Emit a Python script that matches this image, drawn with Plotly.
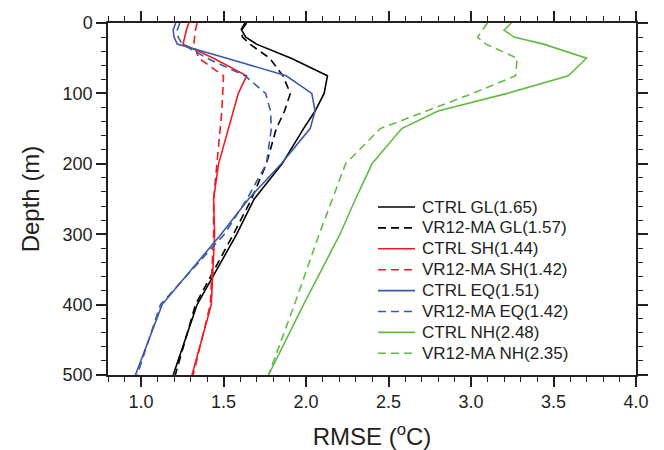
import plotly.graph_objects as go

depth = [0, 10, 20, 30, 50, 75, 100, 125, 150, 200, 250, 300, 400, 500]

ctrl_gl = [1.64, 1.61, 1.635, 1.70, 1.91, 2.13, 2.11, 2.055, 1.985, 1.855, 1.686, 1.58, 1.34, 1.195]
vr_gl   = [1.63, 1.605, 1.615, 1.66, 1.78, 1.86, 1.905, 1.87, 1.82, 1.76, 1.67, 1.56, 1.33, 1.208]
ctrl_sh = [1.29, 1.275, 1.265, 1.255, 1.44, 1.64, 1.59, 1.56, 1.53, 1.47, 1.44, 1.446, 1.426, 1.309]
vr_sh   = [1.34, 1.33, 1.325, 1.32, 1.35, 1.50, 1.495, 1.49, 1.48, 1.46, 1.44, 1.44, 1.42, 1.316]
ctrl_eq = [1.21, 1.195, 1.20, 1.22, 1.52, 1.88, 2.035, 2.055, 2.025, 1.85, 1.652, 1.485, 1.128, 0.966]
vr_eq   = [1.235, 1.22, 1.225, 1.25, 1.40, 1.63, 1.755, 1.785, 1.79, 1.76, 1.642, 1.505, 1.118, 0.977]
ctrl_nh = [3.245, 3.20, 3.26, 3.44, 3.70, 3.59, 3.22, 2.80, 2.58, 2.40, 2.30, 2.206, 1.985, 1.773]
vr_nh   = [3.10, 3.07, 3.04, 3.09, 3.28, 3.27, 3.01, 2.73, 2.45, 2.24, 2.16, 2.08, 1.93, 1.773]

names = ["CTRL GL(1.65)", "VR12-MA GL(1.57)", "CTRL SH(1.44)", "VR12-MA SH(1.42)",
         "CTRL EQ(1.51)", "VR12-MA EQ(1.42)", "CTRL NH(2.48)", "VR12-MA NH(2.35)"]
series = [ctrl_gl, vr_gl, ctrl_sh, vr_sh, ctrl_eq, vr_eq, ctrl_nh, vr_nh]
colors = ["#000000", "#000000", "#ee1c25", "#ee1c25", "#3b5ba9", "#3b5ba9", "#63bb46", "#63bb46"]
dashes = ["solid", "8px,5px"] * 4

# the page body has an 8px default margin, so the figure is 8px smaller
OFF = 8
W, H = 664 - OFF, 450 - OFF
ML, MR, MT, MB = 108 - OFF, 28, 23 - OFF, 75
PW, PH = W - ML - MR, H - MT - MB

fig = go.Figure()
for n, s, c, d in zip(names, series, colors, dashes):
    fig.add_trace(go.Scatter(x=s, y=depth, mode="lines", name=n, showlegend=False,
                             line=dict(color=c, width=1.6, dash=d)))

font_family = "Liberation Sans, Arial, sans-serif"
TXT = "#231f20"

# legend drawn in paper coordinates (layout only); positions in screen px
leg_x0, leg_x1, leg_tx = 378, 415, 420
leg_y0, leg_dy = 207, 20.9
for i, (n, c, d) in enumerate(zip(names, colors, dashes)):
    py = leg_y0 + i * leg_dy - OFF
    yp = (H - MB - py) / PH
    fig.add_shape(type="line", xref="paper", yref="paper",
                  x0=(leg_x0 - OFF - ML) / PW, x1=(leg_x1 - OFF - ML) / PW, y0=yp, y1=yp,
                  line=dict(color=c, width=1.6, dash=d))
    fig.add_annotation(xref="paper", yref="paper", x=(leg_tx - OFF - ML) / PW, y=yp,
                       text=n, showarrow=False, xanchor="left", yanchor="middle",
                       font=dict(size=17, color=TXT, family=font_family))

axis_common = dict(
    showline=True, linecolor=TXT, linewidth=1.5, mirror="ticks",
    ticks="outside", ticklen=10, tickwidth=1.5, tickcolor=TXT,
    showgrid=False, zeroline=False, automargin=False,
    tickfont=dict(size=18, color=TXT, family=font_family),
)

fig.update_layout(
    width=W, height=H,
    margin=dict(l=ML, r=MR, t=MT, b=MB),
    paper_bgcolor="white", plot_bgcolor="white",
    font=dict(family=font_family, color=TXT),
    showlegend=False,
    xaxis=dict(range=[0.8, 4.0], tick0=1.0, dtick=0.5, tickformat=".1f",
               minor=dict(dtick=0.1, tick0=0.8, ticklen=5.5, tickwidth=1.2, ticks="outside", tickcolor=TXT),
               title=dict(text="RMSE (<sup>o</sup>C)", font=dict(size=24), standoff=18),
               **axis_common),
    yaxis=dict(range=[500, 0], tick0=0, dtick=100,
               minor=dict(dtick=20, ticklen=5.5, tickwidth=1.2, ticks="outside", tickcolor=TXT),
               title=dict(text="Depth (m)", font=dict(size=24), standoff=16),
               **axis_common),
)

fig.write_html("out.html")
